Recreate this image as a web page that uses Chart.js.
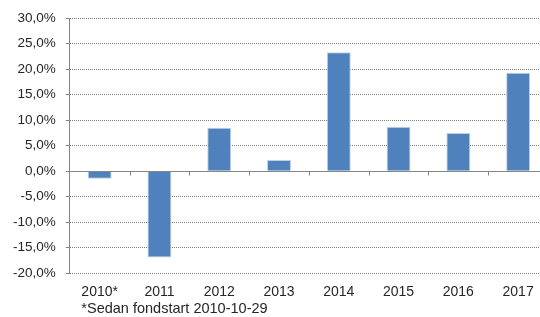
<!DOCTYPE html>
<html>
<head>
<meta charset="utf-8">
<script src="https://cdn.jsdelivr.net/npm/chart.js@4/dist/chart.umd.min.js"></script>
<style>
  html, body { margin: 0; padding: 0; background: #fff; overflow: hidden; }
  #wrap { position: relative; width: 550px; height: 317px; }
</style>
</head>
<body>
<div id="wrap"><canvas id="c"></canvas></div>
<script>
const categories = ['2010*', '2011', '2012', '2013', '2014', '2015', '2016', '2017'];
const returns = [-1.5, -16.9, 8.5, 2.2, 23.3, 8.7, 7.5, 19.3];
const yMin = -20, yMax = 30, yStep = 5;
const footnote = '*Sedan fondstart 2010-10-29';

const axisGray = '#868686';
const textColor = '#262626';
const tickFont = '"Liberation Sans", Arial, sans-serif';

const zeroLinePlugin = {
  id: 'zeroLine',
  afterDatasetsDraw(chart) {
    const { ctx, chartArea, scales } = chart;
    const y0 = Math.round(scales.y.getPixelForValue(0)) + 0.5;
    ctx.save();
    ctx.strokeStyle = axisGray;
    ctx.lineWidth = 1;
    ctx.beginPath();
    ctx.moveTo(chartArea.left, y0);
    ctx.lineTo(chartArea.right, y0);
    for (let i = 0; i < categories.length; i++) {
      const x = Math.round(scales.x.getPixelForValue(i + 0.5)) + 0.5;
      ctx.moveTo(x, y0);
      ctx.lineTo(x, y0 + 4);
    }
    ctx.stroke();
    ctx.restore();
  }
};

const footnotePlugin = {
  id: 'footnote',
  afterDraw(chart) {
    const { ctx, scales } = chart;
    ctx.save();
    ctx.font = '14px ' + tickFont;
    const firstW = ctx.measureText(categories[0]).width;
    const x = scales.x.getPixelForValue(0) - firstW / 2;
    ctx.font = '14.5px ' + tickFont;
    ctx.fillStyle = textColor;
    ctx.textAlign = 'left';
    ctx.textBaseline = 'middle';
    ctx.fillText(footnote, x, scales.x.bottom - 3);
    ctx.restore();
  }
};

new Chart(document.getElementById('c'), {
  type: 'bar',
  data: {
    labels: categories,
    datasets: [{
      data: returns,
      backgroundColor: '#4F81BD',
      borderColor: '#BFD0E6',
      borderWidth: 1,
      barPercentage: 0.4,
      categoryPercentage: 1.0
    }]
  },
  options: {
    responsive: true,
    maintainAspectRatio: false,
    animation: false,
    devicePixelRatio: 1,
    layout: { padding: { left: 3, right: 2, top: 18, bottom: 5 } },
    plugins: { legend: { display: false }, tooltip: { enabled: false }, title: { display: false } },
    scales: {
      x: {
        grid: { display: false, drawTicks: false },
        border: { display: false },
        ticks: {
          color: textColor,
          padding: 11,
          maxRotation: 0,
          font: { family: tickFont, size: 14 }
        }
      },
      y: {
        min: yMin,
        max: yMax,
        grid: {
          color: '#7f7f7f',
          lineWidth: 1,
          drawTicks: true,
          tickLength: 4,
          tickColor: axisGray
        },
        border: { display: true, color: axisGray, width: 1, dash: [1, 1] },
        ticks: {
          stepSize: yStep,
          color: textColor,
          padding: 10,
          font: { family: tickFont, size: 13.5 },
          callback: (v) => v.toFixed(1).replace('.', ',') + '%'
        }
      }
    }
  },
  plugins: [zeroLinePlugin, footnotePlugin]
});
</script>
</body>
</html>
